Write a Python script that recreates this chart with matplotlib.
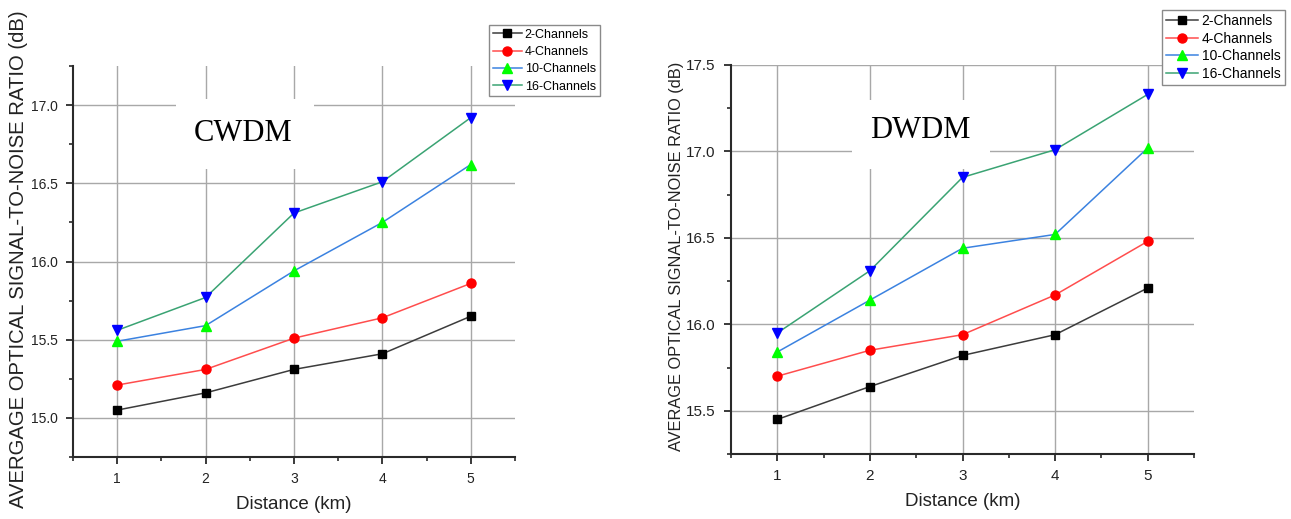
import matplotlib
matplotlib.use('Agg')
import matplotlib.pyplot as plt
from matplotlib.patches import Rectangle
from matplotlib.ticker import MultipleLocator

plt.rcParams['font.family'] = ['Liberation Sans', 'DejaVu Sans']

# distance in km
distance = [1, 2, 3, 4, 5]
labels = ['2-Channels', '4-Channels', '10-Channels', '16-Channels']

# average OSNR (dB), CWDM
cwdm_2 = [15.05, 15.16, 15.31, 15.41, 15.65]
cwdm_4 = [15.21, 15.31, 15.51, 15.64, 15.86]
cwdm_10 = [15.49, 15.59, 15.94, 16.25, 16.62]
cwdm_16 = [15.56, 15.77, 16.31, 16.51, 16.92]

# average OSNR (dB), DWDM
dwdm_2 = [15.45, 15.64, 15.82, 15.94, 16.21]
dwdm_4 = [15.70, 15.85, 15.94, 16.17, 16.48]
dwdm_10 = [15.84, 16.14, 16.44, 16.52, 17.02]
dwdm_16 = [15.95, 16.31, 16.85, 17.01, 17.33]

# (line colour, marker, marker colour, marker size)
STYLES = [('#3c3c3c', 's', '#000000', 6),
          ('#ff4d4d', 'o', '#ff0000', 6.5),
          ('#3b82e0', '^', '#00ff00', 7.5),
          ('#3aa373', 'v', '#0000ff', 7.5)]

W, H = 1291, 519
fig = plt.figure(figsize=(W / 100, H / 100), dpi=100)


def px_axes(x0, y0, x1, y1):
    # axes from pixel box (top-left origin)
    return fig.add_axes([x0 / W, 1 - y1 / H, (x1 - x0) / W, (y1 - y0) / H])


def draw_panel(ax, series, ylim, tick_fs, title, title_xy, box, leg_xy, leg_fs, leg_sp):
    for ys, lab, (lc, mk, mc, ms) in zip(series, labels, STYLES):
        ax.plot(distance, ys, color=lc, lw=1.1, marker=mk, ms=ms,
                mfc=mc, mec=mc, label=lab, zorder=3)
    ax.set_xlim(0.5, 5.5)
    ax.set_ylim(*ylim)
    ax.xaxis.set_major_locator(MultipleLocator(1))
    ax.xaxis.set_minor_locator(MultipleLocator(0.5))
    ax.yaxis.set_major_locator(MultipleLocator(0.5))
    ax.yaxis.set_minor_locator(MultipleLocator(0.25))
    ax.yaxis.set_major_formatter('{x:.1f}')
    ax.grid(True, which='major', color='#a8a8a8', lw=1.0)
    ax.set_axisbelow(True)
    for s in ['top', 'right']:
        ax.spines[s].set_visible(False)
    for s in ['left', 'bottom']:
        ax.spines[s].set_linewidth(1.5)
        ax.spines[s].set_color('#2a2a2a')
    ax.tick_params(which='major', direction='out', length=5, width=1.3,
                   color='#2a2a2a', labelsize=tick_fs, labelcolor='#222222', pad=6)
    ax.tick_params(which='minor', direction='out', length=3, width=1.2, color='#2a2a2a')
    ax.set_xlabel('Distance (km)', fontsize=13.5, color='#222222', labelpad=7)

    # white box behind the title cuts the grid
    bx0, by0, bx1, by1 = box
    ax.add_patch(Rectangle((bx0, by0), bx1 - bx0, by1 - by0, facecolor='white',
                           edgecolor='none', zorder=1))
    ax.text(title_xy[0], title_xy[1], title, family='Liberation Serif', fontsize=22,
            ha='center', va='center', zorder=2)

    leg = ax.legend(loc='upper left', bbox_to_anchor=leg_xy, bbox_transform=fig.transFigure,
                    fontsize=leg_fs, frameon=True, fancybox=False, framealpha=1,
                    edgecolor='#8a8a8a', borderpad=0.3, labelspacing=leg_sp,
                    handlelength=2.3, handletextpad=0.25, borderaxespad=0)
    leg.get_frame().set_linewidth(1.0)


ax1 = px_axes(73, 66, 515, 457)
draw_panel(ax1, [cwdm_2, cwdm_4, cwdm_10, cwdm_16], (14.75, 17.25), 10,
           'CWDM', (2.42, 16.82), (1.66, 16.59, 3.23, 17.036),
           (489 / W, 1 - 25 / H), 9, 0.42)

ax2 = px_axes(731, 65, 1194, 454)
draw_panel(ax2, [dwdm_2, dwdm_4, dwdm_10, dwdm_16], (15.25, 17.5), 11,
           'DWDM', (2.54, 17.12), (1.805, 16.898, 3.297, 17.296),
           (1162 / W, 1 - 10 / H), 10, 0.25)

fig.text(19 / W, 1 - 10 / H, 'AVERGAGE OPTICAL SIGNAL-TO-NOISE RATIO (dB)',
         rotation=90, ha='center', va='top', fontsize=14.6, color='#222222')
fig.text(676 / W, 1 - 62 / H, 'AVERAGE OPTICAL SIGNAL-TO-NOISE RATIO (dB)',
         rotation=90, ha='center', va='top', fontsize=11.8, color='#222222')

fig.savefig('out.png', dpi=100)
